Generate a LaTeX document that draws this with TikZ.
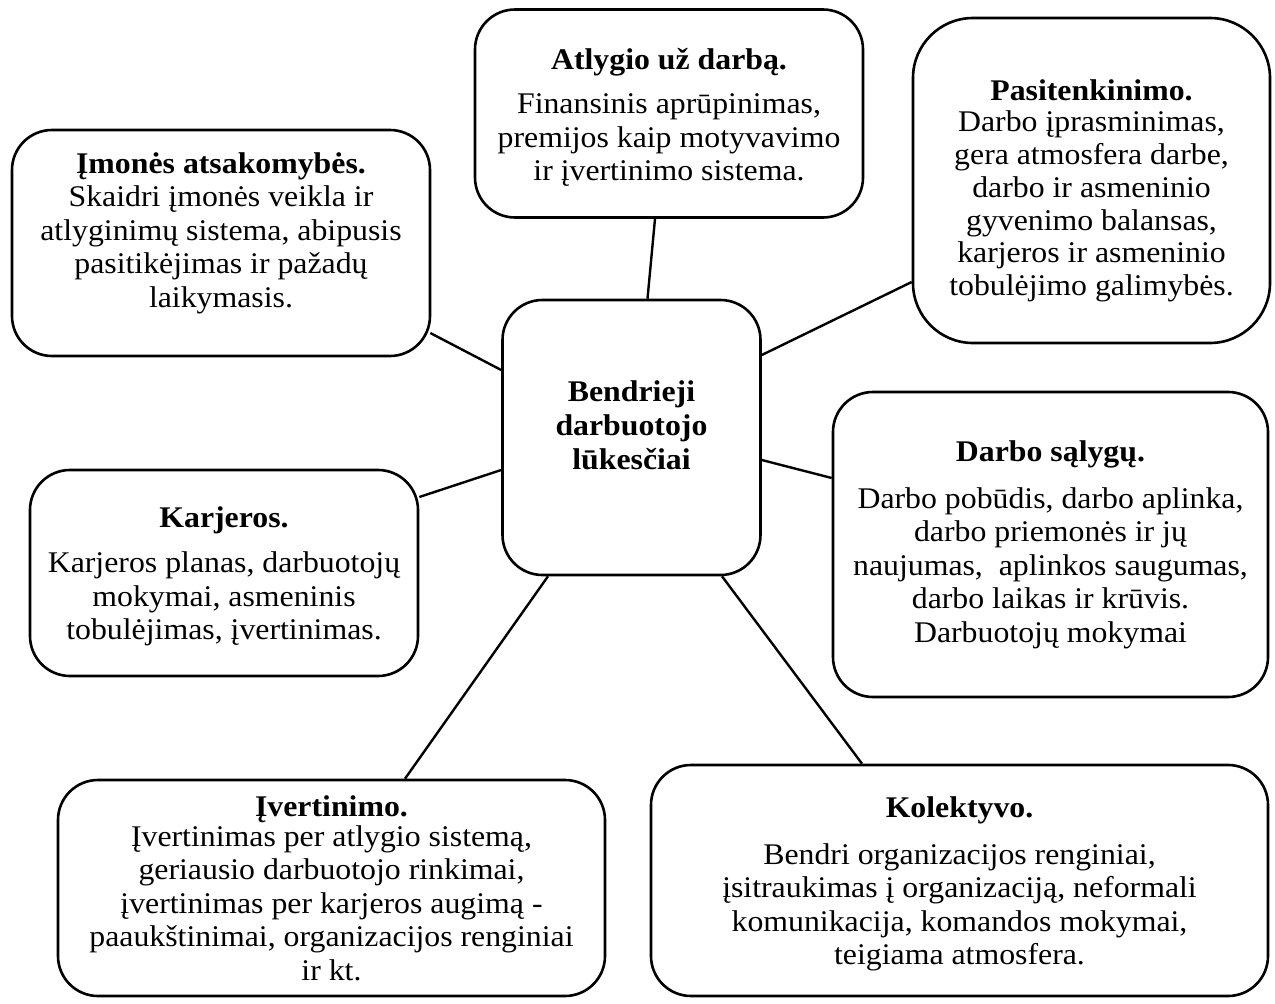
\documentclass[tikz,border=0pt]{standalone}
\usepackage{fontspec}
\setmainfont{Liberation Serif}[FakeStretch=1.06]
\newcommand{\boxtitle}[1]{{\bfseries #1}}
\tikzset{
  topic/.style={draw, line width=2.6pt, rounded corners=40pt, align=center,
    inner sep=0pt, font=\fontsize{30}{33.5}\selectfont},
  hub/.style={draw, line width=2.6pt, rounded corners=40pt, align=center,
    inner sep=0pt, font=\fontsize{30}{34}\selectfont\bfseries},
  link/.style={line width=2.4pt}
}
\begin{document}
\begin{tikzpicture}[x=1pt, y=-1pt]
\useasboundingbox (0,0) rectangle (1275,1004);

% central idea
\node[hub, minimum width=258pt, minimum height=275pt] (c) at (631.5,437.5)
  {Bendrieji\\darbuotojo\\lūkesčiai\rule[-24pt]{0pt}{0pt}};

% surrounding topics
\node[topic, minimum width=388pt, minimum height=208pt] (atl) at (669,113.5)
  {\rule{0pt}{29pt}\boxtitle{Atlygio už darbą.}\\[11pt]
   Finansinis aprūpinimas,\\premijos kaip motyvavimo\\ir įvertinimo sistema.};

\node[topic, rounded corners=60pt, minimum width=357pt, minimum height=325pt,
      font=\fontsize{30}{32.8}\selectfont] (pas) at (1091.5,180.5)
  {\rule{0pt}{42pt}\boxtitle{Pasitenkinimo.}\\[-2pt]
   Darbo įprasminimas,\\gera atmosfera darbe,\\darbo ir asmeninio\\gyvenimo balansas,\\karjeros ir asmeninio\\tobulėjimo galimybės.};

\node[topic, minimum width=418pt, minimum height=226pt] (imo) at (221,243)
  {\boxtitle{Įmonės atsakomybės.}\\
   Skaidri įmonės veikla ir\\atlyginimų sistema, abipusis\\pasitikėjimas ir pažadų\\laikymasis.\rule[-26.5pt]{0pt}{0pt}};

\node[topic, minimum width=435pt, minimum height=305pt] (ds) at (1050.5,544.5)
  {\boxtitle{Darbo sąlygų.}\\[13.5pt]
   Darbo pobūdis, darbo aplinka,\\darbo priemonės ir jų\\naujumas,\ \ aplinkos saugumas,\\darbo laikas ir krūvis.\\Darbuotojų mokymai};

\node[topic, minimum width=388pt, minimum height=206pt] (kar) at (224,573)
  {\rule{0pt}{28pt}\boxtitle{Karjeros.}\\[11.5pt]
   Karjeros planas, darbuotojų\\mokymai, asmeninis\\tobulėjimas, įvertinimas.};

\node[topic, minimum width=547pt, minimum height=216pt] (ive) at (331.5,888)
  {\boxtitle{Įvertinimo.}\\[-3.5pt]
   Įvertinimas per atlygio sistemą,\\geriausio darbuotojo rinkimai,\\įvertinimas per karjeros augimą -\\paaukštinimai, organizacijos renginiai\\ir kt.};

\node[topic, minimum width=617pt, minimum height=231pt] (kol) at (959.5,880.5)
  {\rule{0pt}{27pt}\boxtitle{Kolektyvo.}\\[13.5pt]
   Bendri organizacijos renginiai,\\įsitraukimas į organizaciją, neformali\\komunikacija, komandos mokymai,\\teigiama atmosfera.};

% connectors from each topic to the central idea
\draw[link] ([xshift=-14pt]atl.south) -- ([xshift=16pt]c.north);
\draw[link] ([yshift=-101.5pt]pas.west) -- ([yshift=82.5pt]c.east);
\draw[link] ([xshift=-1pt,yshift=-90pt]imo.east) -- ([yshift=67.5pt]c.west);
\draw[link] ([yshift=66.5pt]ds.west) -- ([yshift=-22.5pt]c.east);
\draw[link] ([yshift=76pt]kar.east) -- ([yshift=-32.5pt]c.west);
\draw[link] ([xshift=73.5pt]ive.north) -- ([xshift=-83.5pt]c.south);
\draw[link] ([xshift=-97.5pt]kol.north) -- ([xshift=90.5pt]c.south);
\end{tikzpicture}
\end{document}
